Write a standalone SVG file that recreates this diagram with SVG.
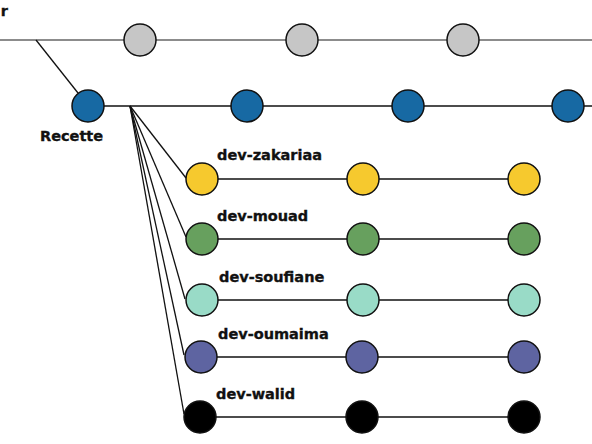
<svg xmlns="http://www.w3.org/2000/svg" width="592" height="444" viewBox="0 0 592 444">
<style>
.lbl{font-family:"DejaVu Sans","Liberation Sans",sans-serif;font-weight:bold;font-size:14.5px;fill:#111;stroke:#111;stroke-width:0.35}
.n{stroke:#111;stroke-width:1.5}
.e{stroke:#111;stroke-width:1.3;fill:none}
.g{stroke:#666;stroke-width:1.6;fill:none}
</style>
<rect width="592" height="444" fill="#fff"/>
<g id="connectors">
<line class="g" x1="0" y1="40" x2="592" y2="40"/>
<line class="e" x1="36" y1="40" x2="78" y2="93"/>
<line class="e" x1="88" y1="106" x2="592" y2="106"/>
<line class="e" x1="130" y1="106" x2="186" y2="178"/>
<line class="e" x1="130" y1="106" x2="186" y2="237"/>
<line class="e" x1="130" y1="106" x2="185" y2="299"/>
<line class="e" x1="130" y1="106" x2="184" y2="355"/>
<line class="e" x1="130" y1="106" x2="184" y2="414"/>
<line class="e" x1="202" y1="179" x2="524" y2="179"/>
<line class="e" x1="202" y1="239" x2="524" y2="239"/>
<line class="e" x1="202" y1="300" x2="524" y2="300"/>
<line class="e" x1="202" y1="357" x2="524" y2="357"/>
<line class="e" x1="201" y1="417" x2="524" y2="417"/>
</g>
<g id="master">
<text class="lbl" x="8" y="16" text-anchor="end">r</text>
<circle class="n" cx="140" cy="40" r="16" fill="#c6c6c6"/>
<circle class="n" cx="302" cy="40" r="16" fill="#c6c6c6"/>
<circle class="n" cx="463" cy="40" r="16" fill="#c6c6c6"/>
</g>
<g id="recette">
<circle class="n" cx="88" cy="106" r="16" fill="#1769a3"/>
<circle class="n" cx="247" cy="106" r="16" fill="#1769a3"/>
<circle class="n" cx="408" cy="106" r="16" fill="#1769a3"/>
<circle class="n" cx="568" cy="106" r="16" fill="#1769a3"/>
<text class="lbl" x="40" y="141">Recette</text>
</g>
<g id="dev-zakariaa">
<circle class="n" cx="202" cy="179" r="16" fill="#f6c92e"/>
<circle class="n" cx="363" cy="179" r="16" fill="#f6c92e"/>
<circle class="n" cx="524" cy="179" r="16" fill="#f6c92e"/>
<text class="lbl" x="217" y="160">dev-zakariaa</text>
</g>
<g id="dev-mouad">
<circle class="n" cx="202" cy="239" r="16" fill="#67a05e"/>
<circle class="n" cx="363" cy="239" r="16" fill="#67a05e"/>
<circle class="n" cx="524" cy="239" r="16" fill="#67a05e"/>
<text class="lbl" x="217" y="221">dev-mouad</text>
</g>
<g id="dev-soufiane">
<circle class="n" cx="202" cy="300" r="16" fill="#99dbc7"/>
<circle class="n" cx="363" cy="300" r="16" fill="#99dbc7"/>
<circle class="n" cx="524" cy="300" r="16" fill="#99dbc7"/>
<text class="lbl" x="219" y="282">dev-soufiane</text>
</g>
<g id="dev-oumaima">
<circle class="n" cx="201" cy="357" r="16" fill="#5e64a1"/>
<circle class="n" cx="362" cy="357" r="16" fill="#5e64a1"/>
<circle class="n" cx="524" cy="357" r="16" fill="#5e64a1"/>
<text class="lbl" x="218" y="339">dev-oumaima</text>
</g>
<g id="dev-walid">
<circle class="n" cx="200" cy="417" r="16" fill="#000"/>
<circle class="n" cx="362" cy="417" r="16" fill="#000"/>
<circle class="n" cx="524" cy="417" r="16" fill="#000"/>
<text class="lbl" x="216" y="399">dev-walid</text>
</g>
</svg>
